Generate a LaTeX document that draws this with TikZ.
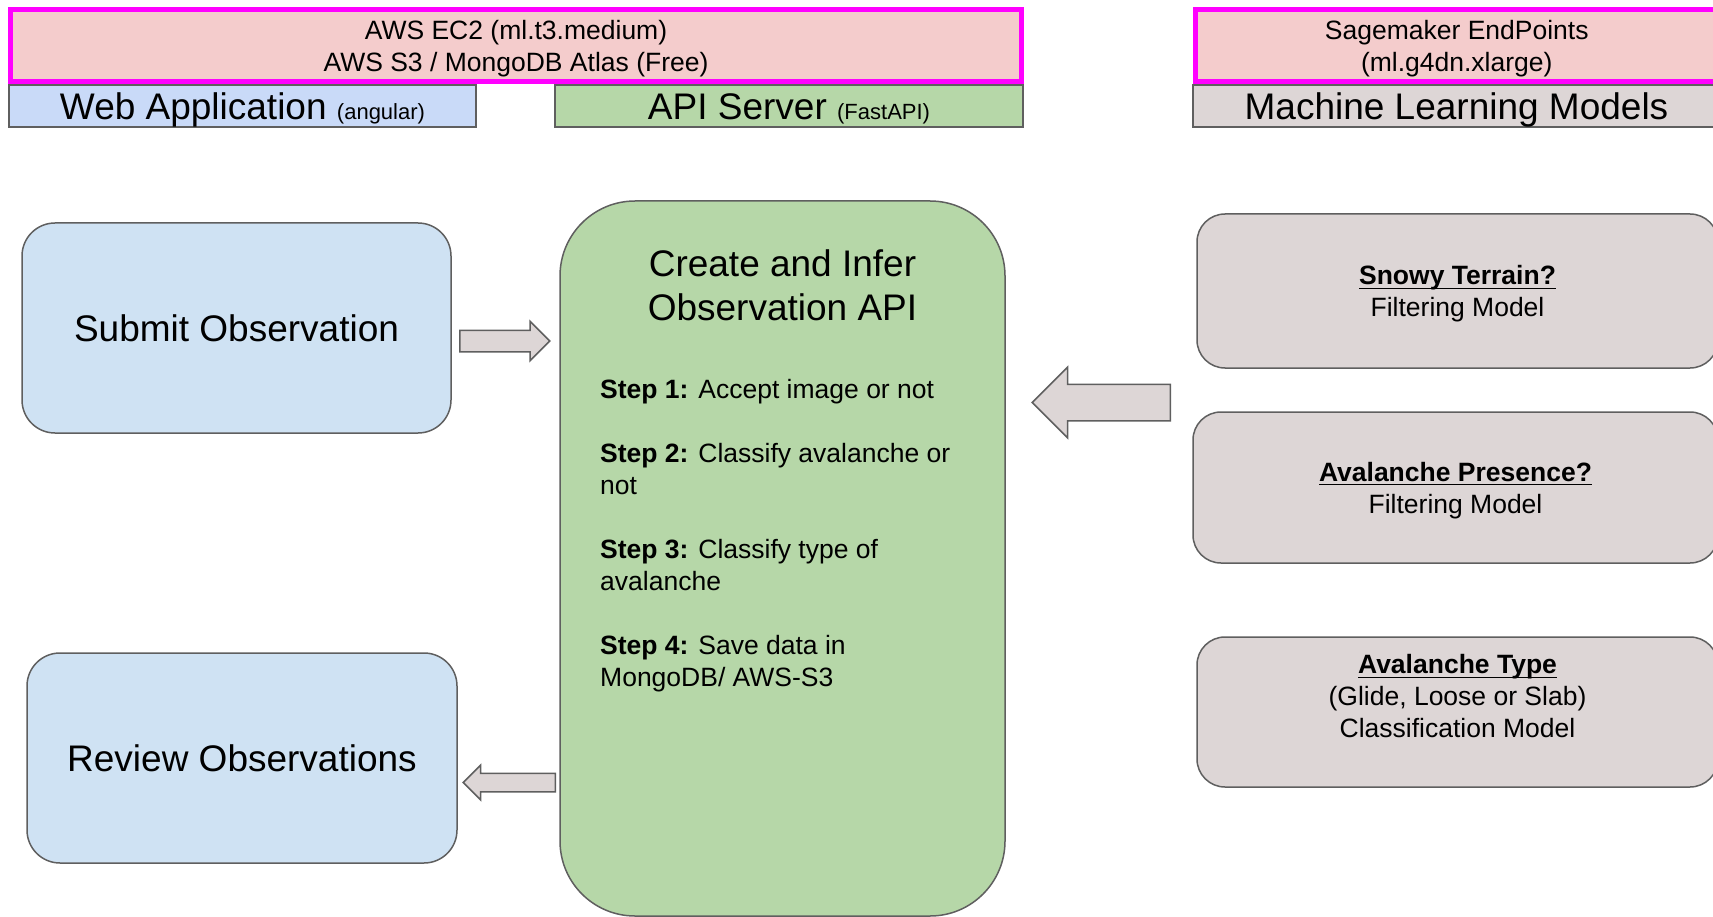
\documentclass[tikz,border=0pt]{standalone}
\usepackage{amsmath}
\usepackage{fontspec}
\setmainfont{Liberation Sans}
\usepackage{xcolor}
\usepackage{tikz}
\usetikzlibrary{shapes.arrows}

\definecolor{hostpink}{HTML}{F4CCCC}
\definecolor{hostedge}{HTML}{FF00FF}
\definecolor{webblue}{HTML}{C9DAF8}
\definecolor{boxblue}{HTML}{CFE2F3}
\definecolor{apigreen}{HTML}{B6D7A8}
\definecolor{modelgray}{HTML}{DDD6D6}
\definecolor{edgegray}{HTML}{5F5F5F}

\newcommand{\ulbold}[1]{\underline{\smash[b]{\textbf{#1}}}}
\newcommand{\tiernote}[1]{{\fontsize{22}{26}\selectfont #1}}

\begin{document}
\begin{tikzpicture}[x=1pt,y=-1pt,
  host/.style={draw=hostedge,line width=5pt,fill=hostpink,inner sep=0pt,
    align=center,text depth=0pt,font=\fontsize{26.5}{32}\selectfont},
  tier/.style={draw=edgegray,line width=1.5pt,inner sep=0pt,
    text height=26.5pt,text depth=0pt,font=\fontsize{37}{44}\selectfont},
  card/.style={draw=edgegray,line width=1.5pt,rounded corners=33pt,
    inner sep=0pt,align=center,font=\fontsize{37}{44}\selectfont},
  model/.style={draw=edgegray,line width=1.5pt,fill=modelgray,
    rounded corners=28pt,inner sep=0pt,align=center,text depth=0pt,
    font=\fontsize{26.5}{32}\selectfont},
  blockarrow/.style={single arrow,draw=edgegray,line width=1.5pt,
    fill=modelgray,inner xsep=0pt,single arrow head indent=0pt}]
  \useasboundingbox (0,0) rectangle (1713,917);
  \fill[white] (0,0) rectangle (1713,917);
  \begin{scope}
  \clip (0,0) rectangle (1713,917);
  % tier headers
  \node[tier,fill=webblue,minimum width=467pt,minimum height=42pt]
    (webtier) at (242.5,106) {Web Application \tiernote{(angular)}};
  \node[tier,fill=apigreen,minimum width=468pt,minimum height=42pt]
    (apitier) at (789,106) {API Server \tiernote{(FastAPI)}};
  \node[tier,fill=modelgray,minimum width=527pt,minimum height=42pt]
    (mltier) at (1456.5,106) {Machine Learning Models};
  % hosting
  \node[host,minimum width=1011pt,minimum height=71.5pt] (ec2) at (516,45.75)
    {AWS EC2 (ml.t3.medium)\\AWS S3 / MongoDB Atlas (Free)};
  \node[host,minimum width=522.5pt,minimum height=71.5pt] (sagemaker)
    at (1456.75,45.75) {Sagemaker EndPoints\\(ml.g4dn.xlarge)};
  % web application
  \node[card,fill=boxblue,minimum width=429pt,minimum height=210pt]
    (submit) at (236.5,328) {Submit Observation};
  \node[card,fill=boxblue,minimum width=430pt,minimum height=210pt]
    (review) at (242,758) {Review Observations};
  % api server
  \node[card,fill=apigreen,rounded corners=75pt,minimum width=445pt,
    minimum height=715pt] (apibox) at (782.5,558.5) {};
  \node[align=center,inner sep=0pt,text depth=0pt,
    font=\fontsize{37}{44}\selectfont] (apititle) at (782.5,285)
    {Create and Infer\\Observation API};
  \node[anchor=north west,align=left,inner sep=0pt,
    font=\fontsize{26.5}{32}\selectfont] (steps) at (600,379)
    {\textbf{Step 1:} Accept image or not\\[32pt]
     \textbf{Step 2:} Classify avalanche or\\not\\[32pt]
     \textbf{Step 3:} Classify type of\\avalanche\\[32pt]
     \textbf{Step 4:} Save data in\\MongoDB/ AWS-S3};
  % models
  \node[model,minimum width=521pt,minimum height=154pt] (terrain)
    at (1457.5,291) {\ulbold{Snowy Terrain?}\\Filtering Model};
  \node[model,minimum width=525pt,minimum height=151pt] (presence)
    at (1455.5,487.5) {\ulbold{Avalanche Presence?}\\Filtering Model};
  \node[model,text depth=32pt,minimum width=521pt,minimum height=150pt]
    (avtype) at (1457.5,712)
    {\ulbold{Avalanche Type}\\(Glide, Loose or Slab)\\Classification Model};
  % flow arrows
  \node[blockarrow,minimum height=90pt,inner ysep=10pt,
    single arrow head extend=9pt,anchor=tail] (toapi) at (459,341) {};
  \node[blockarrow,shape border rotate=180,minimum height=92pt,
    inner ysep=8.5pt,single arrow head extend=8pt,anchor=tail]
    (toreview) at (556,782.5) {};
  \node[blockarrow,shape border rotate=180,minimum height=138pt,
    inner ysep=17.5pt,single arrow head extend=17pt,anchor=tail]
    (frommodels) at (1171,402.5) {};
  \end{scope}
\end{tikzpicture}
\end{document}
